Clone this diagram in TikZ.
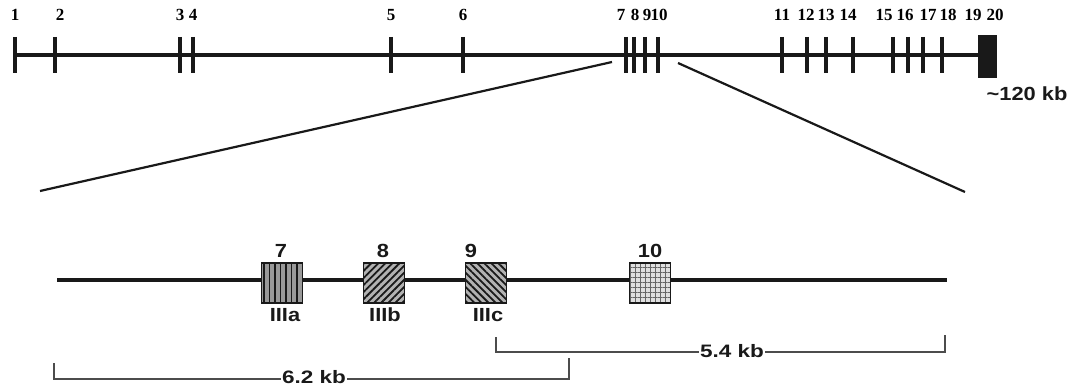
\documentclass[tikz,border=0pt]{standalone}
\usepackage{fontspec}
\setmainfont{Liberation Serif}
\newfontfamily\hvfont{Liberation Sans}
\usepackage{graphicx}
\usetikzlibrary{patterns.meta}
\definecolor{ink}{gray}{0.1}
\begin{document}
\begin{tikzpicture}[x=1pt,y=-1pt,
  exontick/.style={line width=4pt, draw=ink},
  toplbl/.style={font=\fontsize{17}{17}\selectfont\bfseries, inner sep=0pt, anchor=base},
  sanslbl/.style={font=\hvfont\fontsize{19}{19}\selectfont\bfseries, inner sep=0pt, anchor=base, text=ink},
  exonbox/.style={draw=ink, line width=1.4pt, minimum width=41pt, minimum height=40pt, inner sep=0pt},
  zoomline/.style={line width=2.2pt, draw=ink},
  scalebar/.style={line width=1.5pt, draw=black!70},
  barlbl/.style={font=\hvfont\fontsize{18}{18}\selectfont\bfseries, inner sep=1pt, fill=white, text=ink},
]
\useasboundingbox (0,0) rectangle (1075,387);
% ---------- top gene map ----------
\coordinate (t0) at (15,55);
\coordinate (t1) at (980,55);
\draw[line width=4pt, draw=ink] (t0) -- (t1);
\foreach \x in {15,55,180,193,391,463,626,634,645,658,782,807,826,853,893,908,923,942}
  \draw[exontick] (\x,37) -- (\x,73);
\node[fill=ink, minimum width=19pt, minimum height=43pt, inner sep=0pt] (ex1920) at (987.5,56.5) {};
% top labels
\foreach \x/\t in {15/1, 60/2, 180/3, 193/4, 391/5, 463/6, 621/7, 635/8, 647/9, 659/10,
  782/11, 806/12, 826/13, 848/14, 884/15, 905/16, 928/17, 948/18, 973/19, 995/20}
  \node[toplbl] (L\t) at (\x,21) {\t};
\node[sanslbl] (size) at (1027,101) {\scalebox{1.15}[1]{\textasciitilde 120 kb}};
% ---------- zoom lines ----------
\coordinate (zl0) at (612,62);
\coordinate (zl1) at (40,191);
\coordinate (zr0) at (678,63);
\coordinate (zr1) at (965,192);
\draw[zoomline] (zl0) -- (zl1);
\draw[zoomline] (zr0) -- (zr1);
% ---------- detail line ----------
\coordinate (d0) at (57,280);
\coordinate (d1) at (947,280);
\draw[line width=4pt, draw=ink] (d0) -- (d1);
\node[exonbox, fill=black!40] (b7bg) at (282,283) {};
\node[exonbox, pattern={Lines[angle=90,distance=5.5pt,line width=1.8pt]}, pattern color=ink] (b7) at (282,283) {};
\node[exonbox, fill=black!30] (b8bg) at (384,283) {};
\node[exonbox, pattern={Lines[angle=45,distance=5pt,line width=1.8pt]}, pattern color=ink] (b8) at (384,283) {};
\node[exonbox, fill=black!30] (b9bg) at (486,283) {};
\node[exonbox, pattern={Lines[angle=-45,distance=5pt,line width=1.8pt]}, pattern color=ink] (b9) at (486,283) {};
\node[exonbox, fill=black!12] (b10bg) at (650,283) {};
\node[exonbox, pattern={Hatch[angle=0,distance=5pt,line width=0.8pt]}, pattern color=black!60] (b10) at (650,283) {};
% box labels
\node[sanslbl] (n7) at (281,257) {\scalebox{1.15}[1]{7}};
\node[sanslbl] (n8) at (383,257) {\scalebox{1.15}[1]{8}};
\node[sanslbl] (n9) at (471,257) {\scalebox{1.15}[1]{9}};
\node[sanslbl] (n10) at (650,257) {\scalebox{1.15}[1]{10}};
\node[sanslbl] (s7) at (285,321) {\scalebox{1.15}[1]{IIIa}};
\node[sanslbl] (s8) at (385,321) {\scalebox{1.15}[1]{IIIb}};
\node[sanslbl] (s9) at (488,321) {\scalebox{1.15}[1]{IIIc}};
% ---------- scale bars ----------
\coordinate (a0) at (54,363);
\coordinate (a1) at (54,379);
\coordinate (a2) at (569,379);
\coordinate (a3) at (569,358);
\draw[scalebar] (a0) -- (a1) -- (a2) -- (a3);
\node[barlbl] (k62) at (314,377) {\scalebox{1.25}[1]{6.2 kb}};
\coordinate (c0) at (496,337);
\coordinate (c1) at (496,352);
\coordinate (c2) at (945,352);
\coordinate (c3) at (945,335);
\draw[scalebar] (c0) -- (c1) -- (c2) -- (c3);
\node[barlbl] (k54) at (732,351) {\scalebox{1.25}[1]{5.4 kb}};
\end{tikzpicture}
\end{document}
